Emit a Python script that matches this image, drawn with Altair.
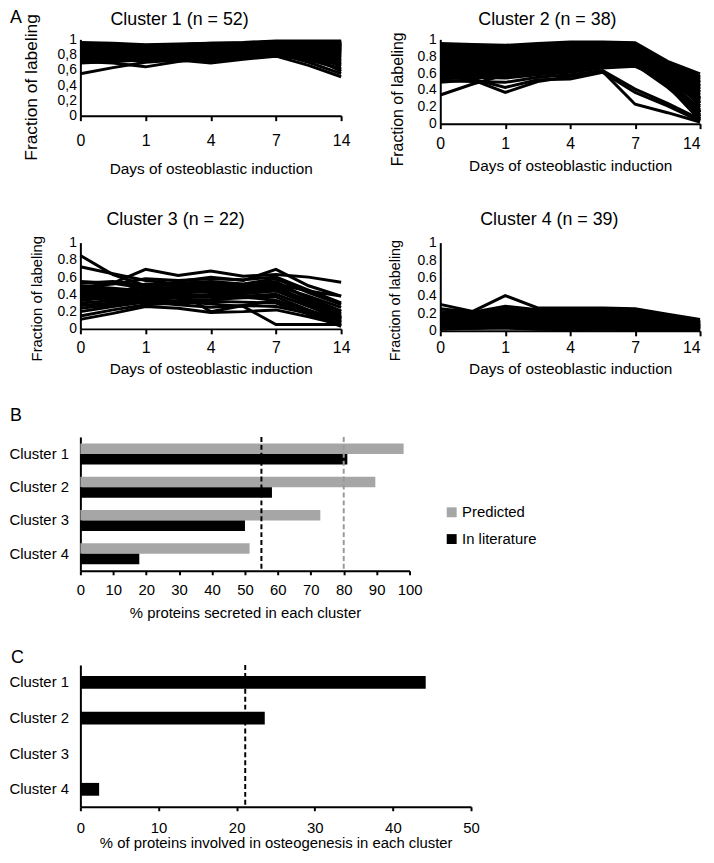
import altair as alt
import pandas as pd

FONT = "Liberation Sans"

# ---------------- data ----------------
time_points = ["0", "0-1", "1", "1-4", "4", "4-7", "7", "7-14", "14"]
labeled_days = ["0", "1", "4", "7", "14"]
fraction_ticks = [0, 0.2, 0.4, 0.6, 0.8, 1]

cluster_labels = ["Cluster 1", "Cluster 2", "Cluster 3", "Cluster 4"]
cluster_sizes = [52, 38, 22, 39]

cluster1_lines = [
    [0.55, 0.63, 0.70, 0.73, 0.75, 0.77, 0.79, 0.73, 0.62],
    [0.71, 0.69, 0.64, 0.71, 0.75, 0.77, 0.79, 0.76, 0.70],
    [0.73, 0.74, 0.75, 0.73, 0.69, 0.74, 0.78, 0.75, 0.67],
    [0.80, 0.79, 0.78, 0.78, 0.79, 0.78, 0.78, 0.66, 0.51],
    [0.82, 0.80, 0.79, 0.80, 0.80, 0.81, 0.82, 0.70, 0.55],
    [0.78, 0.77, 0.76, 0.78, 0.79, 0.80, 0.81, 0.75, 0.60],
    [0.96, 0.95, 0.93, 0.94, 0.95, 0.96, 0.98, 0.98, 0.98],
    [0.95, 0.94, 0.92, 0.93, 0.95, 0.95, 0.97, 0.97, 0.96],
    [0.69, 0.71, 0.73, 0.74, 0.76, 0.77, 0.78, 0.77, 0.74],
    [0.70, 0.72, 0.74, 0.75, 0.74, 0.76, 0.79, 0.80, 0.78],
    [0.72, 0.73, 0.72, 0.74, 0.73, 0.76, 0.80, 0.81, 0.82],
    [0.74, 0.75, 0.76, 0.76, 0.77, 0.78, 0.81, 0.83, 0.85],
    [0.75, 0.76, 0.74, 0.77, 0.78, 0.80, 0.83, 0.84, 0.88],
    [0.76, 0.77, 0.77, 0.78, 0.80, 0.82, 0.84, 0.86, 0.90],
    [0.77, 0.78, 0.79, 0.80, 0.81, 0.83, 0.85, 0.87, 0.92],
    [0.79, 0.79, 0.78, 0.80, 0.82, 0.84, 0.86, 0.88, 0.94],
    [0.80, 0.81, 0.80, 0.82, 0.83, 0.85, 0.88, 0.90, 0.95],
    [0.81, 0.82, 0.81, 0.83, 0.84, 0.86, 0.89, 0.91, 0.97],
    [0.83, 0.83, 0.82, 0.84, 0.85, 0.87, 0.90, 0.92, 0.93],
    [0.84, 0.84, 0.83, 0.85, 0.86, 0.88, 0.91, 0.90, 0.89],
    [0.85, 0.85, 0.84, 0.85, 0.87, 0.89, 0.92, 0.88, 0.84],
    [0.86, 0.86, 0.85, 0.86, 0.88, 0.90, 0.93, 0.87, 0.80],
    [0.87, 0.87, 0.86, 0.87, 0.89, 0.91, 0.94, 0.86, 0.77],
    [0.88, 0.88, 0.87, 0.88, 0.90, 0.92, 0.95, 0.89, 0.82],
    [0.89, 0.89, 0.88, 0.89, 0.91, 0.93, 0.96, 0.92, 0.87],
    [0.90, 0.90, 0.89, 0.90, 0.92, 0.93, 0.95, 0.94, 0.91],
    [0.91, 0.91, 0.90, 0.91, 0.92, 0.94, 0.96, 0.95, 0.93],
    [0.92, 0.92, 0.91, 0.92, 0.93, 0.94, 0.97, 0.96, 0.95],
    [0.93, 0.93, 0.91, 0.92, 0.94, 0.95, 0.97, 0.96, 0.97],
    [0.94, 0.93, 0.92, 0.93, 0.94, 0.95, 0.96, 0.95, 0.92],
    [0.71, 0.72, 0.76, 0.78, 0.79, 0.80, 0.82, 0.78, 0.72],
    [0.73, 0.74, 0.77, 0.79, 0.80, 0.81, 0.83, 0.77, 0.68],
    [0.76, 0.75, 0.74, 0.76, 0.72, 0.76, 0.80, 0.77, 0.73],
    [0.78, 0.78, 0.79, 0.81, 0.83, 0.84, 0.85, 0.80, 0.76],
    [0.80, 0.80, 0.81, 0.82, 0.84, 0.85, 0.87, 0.82, 0.79],
    [0.82, 0.81, 0.80, 0.82, 0.85, 0.86, 0.88, 0.84, 0.81],
    [0.84, 0.83, 0.82, 0.83, 0.86, 0.87, 0.89, 0.85, 0.83],
    [0.86, 0.85, 0.83, 0.84, 0.87, 0.88, 0.90, 0.86, 0.85],
    [0.88, 0.86, 0.84, 0.85, 0.88, 0.89, 0.91, 0.88, 0.86],
    [0.90, 0.88, 0.85, 0.86, 0.89, 0.90, 0.92, 0.90, 0.88],
    [0.92, 0.90, 0.87, 0.88, 0.90, 0.91, 0.93, 0.91, 0.90],
    [0.94, 0.91, 0.88, 0.89, 0.91, 0.92, 0.94, 0.93, 0.94],
    [0.95, 0.92, 0.89, 0.90, 0.92, 0.93, 0.95, 0.95, 0.97],
    [0.77, 0.79, 0.82, 0.83, 0.84, 0.86, 0.88, 0.86, 0.84],
    [0.79, 0.80, 0.82, 0.84, 0.86, 0.87, 0.89, 0.87, 0.86],
    [0.81, 0.83, 0.85, 0.86, 0.87, 0.88, 0.90, 0.89, 0.88],
    [0.83, 0.85, 0.87, 0.88, 0.89, 0.90, 0.91, 0.90, 0.89],
    [0.85, 0.86, 0.88, 0.89, 0.90, 0.91, 0.93, 0.92, 0.91],
    [0.87, 0.88, 0.89, 0.90, 0.91, 0.92, 0.94, 0.93, 0.92],
    [0.89, 0.89, 0.90, 0.91, 0.92, 0.93, 0.95, 0.94, 0.93],
    [0.74, 0.76, 0.78, 0.79, 0.81, 0.82, 0.83, 0.79, 0.65],
    [0.76, 0.77, 0.79, 0.80, 0.81, 0.82, 0.84, 0.80, 0.58],
]

cluster2_lines = [
    [0.34, 0.47, 0.58, 0.60, 0.63, 0.67, 0.70, 0.46, 0.14],
    [0.49, 0.52, 0.37, 0.50, 0.56, 0.62, 0.23, 0.13, 0.02],
    [0.55, 0.53, 0.43, 0.52, 0.53, 0.61, 0.37, 0.21, 0.03],
    [0.51, 0.50, 0.49, 0.55, 0.58, 0.63, 0.41, 0.24, 0.05],
    [0.95, 0.94, 0.93, 0.95, 0.97, 0.97, 0.96, 0.74, 0.59],
    [0.93, 0.92, 0.91, 0.93, 0.96, 0.96, 0.95, 0.66, 0.38],
    [0.91, 0.91, 0.90, 0.92, 0.94, 0.95, 0.94, 0.70, 0.52],
    [0.89, 0.88, 0.87, 0.90, 0.93, 0.94, 0.93, 0.58, 0.21],
    [0.87, 0.87, 0.85, 0.88, 0.91, 0.92, 0.92, 0.71, 0.56],
    [0.85, 0.85, 0.84, 0.86, 0.90, 0.91, 0.91, 0.52, 0.09],
    [0.83, 0.82, 0.81, 0.85, 0.88, 0.90, 0.90, 0.63, 0.44],
    [0.81, 0.80, 0.79, 0.83, 0.86, 0.88, 0.89, 0.55, 0.27],
    [0.79, 0.79, 0.77, 0.81, 0.85, 0.87, 0.88, 0.67, 0.49],
    [0.77, 0.77, 0.75, 0.79, 0.83, 0.86, 0.87, 0.48, 0.06],
    [0.75, 0.74, 0.73, 0.77, 0.81, 0.84, 0.85, 0.60, 0.35],
    [0.73, 0.72, 0.71, 0.75, 0.79, 0.82, 0.84, 0.53, 0.16],
    [0.71, 0.71, 0.69, 0.73, 0.77, 0.81, 0.83, 0.62, 0.41],
    [0.69, 0.69, 0.67, 0.71, 0.75, 0.79, 0.81, 0.45, 0.04],
    [0.67, 0.66, 0.65, 0.69, 0.73, 0.78, 0.80, 0.57, 0.31],
    [0.65, 0.64, 0.63, 0.67, 0.71, 0.76, 0.78, 0.50, 0.13],
    [0.63, 0.63, 0.61, 0.65, 0.69, 0.74, 0.76, 0.59, 0.46],
    [0.61, 0.60, 0.59, 0.63, 0.67, 0.72, 0.74, 0.47, 0.19],
    [0.59, 0.58, 0.57, 0.61, 0.65, 0.70, 0.72, 0.55, 0.40],
    [0.57, 0.56, 0.55, 0.59, 0.63, 0.68, 0.70, 0.43, 0.11],
    [0.53, 0.55, 0.54, 0.58, 0.61, 0.66, 0.68, 0.51, 0.33],
    [0.92, 0.90, 0.86, 0.89, 0.95, 0.93, 0.92, 0.61, 0.24],
    [0.88, 0.86, 0.82, 0.86, 0.92, 0.90, 0.86, 0.64, 0.48],
    [0.84, 0.80, 0.76, 0.80, 0.87, 0.85, 0.80, 0.56, 0.29],
    [0.80, 0.76, 0.72, 0.77, 0.84, 0.83, 0.78, 0.49, 0.14],
    [0.76, 0.71, 0.66, 0.72, 0.80, 0.80, 0.76, 0.54, 0.37],
    [0.70, 0.66, 0.60, 0.66, 0.74, 0.77, 0.75, 0.46, 0.08],
    [0.64, 0.60, 0.55, 0.62, 0.70, 0.75, 0.77, 0.58, 0.42],
    [0.58, 0.55, 0.58, 0.64, 0.72, 0.78, 0.79, 0.52, 0.25],
    [0.62, 0.62, 0.66, 0.70, 0.76, 0.82, 0.86, 0.65, 0.50],
    [0.68, 0.72, 0.76, 0.80, 0.84, 0.88, 0.90, 0.68, 0.53],
    [0.74, 0.78, 0.82, 0.85, 0.88, 0.91, 0.93, 0.72, 0.55],
    [0.82, 0.84, 0.86, 0.88, 0.91, 0.93, 0.94, 0.66, 0.30],
    [0.90, 0.92, 0.92, 0.93, 0.95, 0.96, 0.95, 0.69, 0.45],
]

cluster3_lines = [
    [0.85, 0.63, 0.50, 0.46, 0.43, 0.41, 0.45, 0.30, 0.16],
    [0.72, 0.64, 0.56, 0.52, 0.49, 0.47, 0.53, 0.36, 0.21],
    [0.46, 0.53, 0.69, 0.62, 0.67, 0.61, 0.63, 0.60, 0.54],
    [0.40, 0.44, 0.48, 0.55, 0.60, 0.56, 0.69, 0.50, 0.38],
    [0.30, 0.33, 0.35, 0.31, 0.29, 0.26, 0.05, 0.05, 0.05],
    [0.11, 0.18, 0.26, 0.24, 0.19, 0.20, 0.22, 0.14, 0.05],
    [0.20, 0.26, 0.31, 0.28, 0.25, 0.27, 0.26, 0.18, 0.09],
    [0.53, 0.55, 0.50, 0.53, 0.55, 0.52, 0.58, 0.42, 0.28],
    [0.50, 0.47, 0.44, 0.47, 0.50, 0.48, 0.52, 0.44, 0.38],
    [0.47, 0.45, 0.39, 0.42, 0.45, 0.43, 0.47, 0.33, 0.18],
    [0.44, 0.42, 0.36, 0.39, 0.40, 0.41, 0.44, 0.29, 0.13],
    [0.42, 0.40, 0.33, 0.36, 0.37, 0.38, 0.40, 0.26, 0.11],
    [0.39, 0.38, 0.30, 0.33, 0.34, 0.36, 0.37, 0.22, 0.08],
    [0.36, 0.35, 0.42, 0.45, 0.47, 0.45, 0.49, 0.31, 0.14],
    [0.33, 0.37, 0.45, 0.49, 0.52, 0.50, 0.55, 0.35, 0.12],
    [0.27, 0.30, 0.38, 0.41, 0.44, 0.44, 0.46, 0.28, 0.07],
    [0.24, 0.28, 0.34, 0.37, 0.38, 0.37, 0.33, 0.20, 0.04],
    [0.15, 0.22, 0.28, 0.30, 0.32, 0.31, 0.30, 0.17, 0.03],
    [0.49, 0.52, 0.58, 0.56, 0.58, 0.57, 0.60, 0.45, 0.30],
    [0.55, 0.53, 0.47, 0.48, 0.44, 0.46, 0.50, 0.38, 0.25],
    [0.37, 0.40, 0.52, 0.50, 0.53, 0.51, 0.44, 0.32, 0.20],
    [0.43, 0.46, 0.40, 0.43, 0.20, 0.27, 0.33, 0.21, 0.10],
]

cluster4_lines = [
    [0.30, 0.22, 0.40, 0.26, 0.26, 0.26, 0.25, 0.19, 0.13],
    [0.25, 0.21, 0.28, 0.24, 0.21, 0.22, 0.23, 0.16, 0.10],
    [0.22, 0.20, 0.24, 0.20, 0.23, 0.20, 0.18, 0.13, 0.09],
    [0.21, 0.19, 0.22, 0.19, 0.18, 0.19, 0.17, 0.12, 0.08],
    [0.20, 0.17, 0.19, 0.17, 0.20, 0.17, 0.15, 0.11, 0.07],
    [0.19, 0.15, 0.17, 0.14, 0.16, 0.18, 0.21, 0.13, 0.06],
    [0.18, 0.16, 0.15, 0.13, 0.14, 0.15, 0.14, 0.10, 0.05],
    [0.17, 0.15, 0.21, 0.16, 0.12, 0.13, 0.12, 0.09, 0.06],
    [0.16, 0.14, 0.13, 0.12, 0.15, 0.14, 0.13, 0.08, 0.04],
    [0.15, 0.12, 0.16, 0.13, 0.11, 0.10, 0.11, 0.08, 0.05],
    [0.14, 0.13, 0.12, 0.10, 0.12, 0.11, 0.09, 0.07, 0.03],
    [0.13, 0.11, 0.10, 0.11, 0.09, 0.12, 0.10, 0.06, 0.04],
    [0.12, 0.09, 0.13, 0.09, 0.10, 0.08, 0.08, 0.06, 0.02],
    [0.11, 0.10, 0.09, 0.08, 0.08, 0.09, 0.07, 0.05, 0.03],
    [0.10, 0.08, 0.11, 0.07, 0.06, 0.07, 0.06, 0.04, 0.02],
    [0.09, 0.07, 0.08, 0.06, 0.07, 0.05, 0.05, 0.04, 0.02],
    [0.08, 0.06, 0.07, 0.05, 0.05, 0.06, 0.04, 0.03, 0.01],
    [0.07, 0.05, 0.06, 0.04, 0.04, 0.04, 0.03, 0.03, 0.02],
    [0.06, 0.04, 0.05, 0.03, 0.03, 0.03, 0.02, 0.02, 0.01],
    [0.05, 0.03, 0.04, 0.02, 0.02, 0.02, 0.02, 0.01, 0.01],
    [0.04, 0.03, 0.03, 0.02, 0.01, 0.02, 0.01, 0.01, 0.01],
    [0.18, 0.19, 0.26, 0.21, 0.19, 0.20, 0.22, 0.14, 0.08],
    [0.14, 0.17, 0.23, 0.18, 0.15, 0.16, 0.17, 0.11, 0.06],
    [0.10, 0.14, 0.19, 0.15, 0.13, 0.14, 0.16, 0.10, 0.05],
    [0.07, 0.11, 0.16, 0.12, 0.10, 0.11, 0.12, 0.08, 0.04],
    [0.05, 0.08, 0.12, 0.09, 0.08, 0.09, 0.10, 0.06, 0.03],
    [0.03, 0.06, 0.09, 0.07, 0.06, 0.07, 0.08, 0.05, 0.02],
    [0.02, 0.04, 0.06, 0.05, 0.04, 0.05, 0.06, 0.04, 0.02],
    [0.16, 0.18, 0.21, 0.23, 0.24, 0.22, 0.20, 0.14, 0.09],
    [0.13, 0.15, 0.18, 0.20, 0.22, 0.21, 0.19, 0.13, 0.08],
    [0.11, 0.12, 0.15, 0.17, 0.19, 0.18, 0.17, 0.12, 0.07],
    [0.09, 0.10, 0.12, 0.14, 0.16, 0.16, 0.15, 0.11, 0.06],
    [0.06, 0.08, 0.10, 0.11, 0.13, 0.13, 0.13, 0.09, 0.05],
    [0.04, 0.06, 0.08, 0.09, 0.11, 0.11, 0.11, 0.08, 0.04],
    [0.03, 0.05, 0.07, 0.08, 0.09, 0.10, 0.09, 0.07, 0.03],
    [0.02, 0.03, 0.05, 0.06, 0.07, 0.08, 0.07, 0.05, 0.02],
    [0.20, 0.21, 0.18, 0.20, 0.23, 0.23, 0.24, 0.17, 0.11],
    [0.12, 0.13, 0.11, 0.14, 0.17, 0.19, 0.20, 0.15, 0.10],
    [0.08, 0.09, 0.07, 0.10, 0.12, 0.14, 0.15, 0.12, 0.09],
]

secretion_series = ["Predicted", "In literature"]
secretion_colors = ["#a6a6a6", "#000000"]
secreted_predicted = [98.2, 89.6, 72.9, 51.4]
secreted_literature = [81.1, 58.2, 50.0, 17.9]
secreted_reference = [55.0, 80.0]
secreted_reference_colors = ["#000000", "#999999"]
secreted_ticks = [0, 10, 20, 30, 40, 50, 60, 70, 80, 90, 100]

osteo_values = [44.2, 23.6, 0.0, 2.4]
osteo_reference = [21.1]
osteo_ticks = [0, 10, 20, 30, 40, 50]


# ---------------- helpers ----------------
def letter_layer(ch, x, y):
    return alt.Chart(pd.DataFrame({"letter": [ch]})).mark_text(
        align="left", baseline="top", fontSize=18, font=FONT, color="black"
    ).encode(text="letter:N", x=alt.value(x), y=alt.value(y))


def line_panel(lines, idx, width, height, comma, lab_pad, x_title_y, y_title_x,
               y_title_y, y_title_size, title_dx, title_offset, letter=None,
               flush_last=False):
    rows = []
    for k, vals in enumerate(lines):
        for t, v in zip(time_points, vals):
            rows.append({"protein": k, "time": t, "fraction": v})
    df = pd.DataFrame(rows)
    if comma:
        expr = ("datum.value == 0 || datum.value == 1 ? format(datum.value, 'd') : "
                "replace(format(datum.value, '.1f'), '.', ',')")
    else:
        expr = ("datum.value == 0 || datum.value == 1 ? format(datum.value, 'd') : "
                "format(datum.value, '.1f')")
    x_axis_kw = dict(values=labeled_days, title="Days of osteoblastic induction",
                     labelAngle=0, labelFontSize=16, labelPadding=lab_pad,
                     tickSize=5, titleFontSize=15.5, titleY=x_title_y,
                     titleBaseline="middle")
    if flush_last:
        x_axis_kw["labelAlign"] = {"condition": {"test": "datum.value === '14'", "value": "right"},
                                   "value": "center"}
    layer = alt.Chart(df).mark_line(color="black", strokeWidth=3).encode(
        x=alt.X("time:N", sort=time_points,
                scale=alt.Scale(type="point", padding=0),
                axis=alt.Axis(**x_axis_kw)),
        y=alt.Y("fraction:Q", scale=alt.Scale(domain=[0, 1]),
                axis=alt.Axis(values=fraction_ticks, labelExpr=expr, ticks=False,
                              labelFontSize=14, labelPadding=4, labelOverlap=False,
                              title="Fraction of labeling", titleFontSize=y_title_size,
                              titleX=y_title_x, titleY=y_title_y,
                              titleBaseline="middle")),
        detail="protein:N",
    )
    parts = [layer]
    if letter:
        parts.append(letter_layer(letter, -71, -31))
    title = alt.TitleParams(f"{cluster_labels[idx]} (n = {cluster_sizes[idx]})",
                            fontSize=18, fontWeight="normal", frame="group",
                            anchor="middle", dx=title_dx, offset=title_offset)
    return alt.layer(*parts).properties(width=width, height=height, title=title)


c1 = line_panel(cluster1_lines, 0, 263, 77, True, 12, 53, -49, 48, 17.5, -31.5, -21, letter="A")
c2 = line_panel(cluster2_lines, 1, 262, 85, False, 7, 42, -43, 60, 16, -23, 2.4, flush_last=True)
c3 = line_panel(cluster3_lines, 2, 263, 87, False, 6, 40, -44, 56, 15, -35.5, 6.6)
c4 = line_panel(cluster4_lines, 3, 262, 89, False, 4, 38, -45, 58, 14.5, -21, 7, flush_last=True)

row_a1 = alt.hconcat(c1, c2, spacing=39)
row_a2 = alt.hconcat(c3, c4, spacing=37)
top = alt.vconcat(row_a1, row_a2, spacing=34)

# ---- panel B ----
b_rows = []
for c, p, l in zip(cluster_labels, secreted_predicted, secreted_literature):
    b_rows.append({"cluster": c, "source": secretion_series[0], "pct": p})
    b_rows.append({"cluster": c, "source": secretion_series[1], "pct": l})
b_df = pd.DataFrame(b_rows)

b_x_axis = alt.Axis(values=secreted_ticks, title="% proteins secreted in each cluster",
                    labelFontSize=15, titleFontSize=15, tickSize=4, labelPadding=8,
                    labelFlush=False, labelOverlap=False,
                    titleY=42, titleBaseline="middle")
b_x_scale = alt.Scale(domain=[0, 100])

bars_b = alt.Chart(b_df).mark_bar().encode(
    y=alt.Y("cluster:N", sort=cluster_labels,
            scale=alt.Scale(paddingInner=0.37, paddingOuter=0.2),
            axis=alt.Axis(title=None, ticks=False, labelFontSize=15, labelPadding=12)),
    yOffset=alt.YOffset("source:N", sort=secretion_series),
    x=alt.X("pct:Q", scale=b_x_scale, axis=b_x_axis),
    color=alt.Color("source:N", sort=secretion_series,
                    scale=alt.Scale(domain=secretion_series, range=secretion_colors),
                    legend=alt.Legend(title=None, orient="none", legendX=367, legendY=68.5,
                                      symbolType="square", symbolSize=100,
                                      symbolStrokeWidth=0, labelFontSize=15,
                                      rowPadding=11, padding=0, labelOffset=3)),
)
ref_b = pd.DataFrame({"v": secreted_reference, "col": secreted_reference_colors})
rule_b = alt.Chart(ref_b).mark_rule(strokeDash=[5, 3], strokeWidth=2).encode(
    x=alt.X("v:Q", scale=b_x_scale, axis=b_x_axis), stroke=alt.Stroke("col:N", scale=None)
)
chart_b = alt.layer(bars_b, rule_b, letter_layer("B", -71, -30)).properties(width=332, height=135)

# ---- panel C ----
c_df = pd.DataFrame({"cluster": cluster_labels, "pct": osteo_values})
c_x_axis = alt.Axis(values=osteo_ticks,
                    title="% of proteins involved in osteogenesis in each cluster",
                    labelFontSize=15, titleFontSize=15, tickSize=4, labelPadding=10,
                    labelFlush=False, labelOverlap=False,
                    titleY=36, titleBaseline="middle")
c_x_scale = alt.Scale(domain=[0, 50])
bars_c = alt.Chart(c_df).mark_bar(color="black").encode(
    y=alt.Y("cluster:N", sort=cluster_labels,
            scale=alt.Scale(paddingInner=0.64, paddingOuter=0.31),
            axis=alt.Axis(title=None, ticks=False, labelFontSize=15, labelPadding=12)),
    x=alt.X("pct:Q", scale=c_x_scale, axis=c_x_axis),
)
rule_c = alt.Chart(pd.DataFrame({"v": osteo_reference})).mark_rule(
    strokeDash=[5, 3], strokeWidth=2, color="black"
).encode(x=alt.X("v:Q", scale=c_x_scale, axis=c_x_axis))
chart_c = alt.layer(bars_c, rule_c, letter_layer("C", -70, -16)).properties(width=394, height=143)

lower = alt.vconcat(chart_b, chart_c, spacing=29).resolve_scale(color="independent")

chart = alt.vconcat(top, lower, spacing=30).resolve_scale(color="independent").properties(
    padding={"left": 0, "top": -3, "right": 0, "bottom": 0}
).configure_view(stroke=None).configure_axis(
    domainColor="black", domainWidth=2, tickColor="black", tickWidth=2,
    labelColor="black", titleColor="black", titleFontWeight="normal",
    labelFont=FONT, titleFont=FONT, grid=False
).configure_title(font=FONT, color="black", fontWeight="normal").configure_legend(
    labelFont=FONT, labelColor="black"
).configure_text(font=FONT)

chart.save("out.html", embed_options={"renderer": "svg", "actions": False})
